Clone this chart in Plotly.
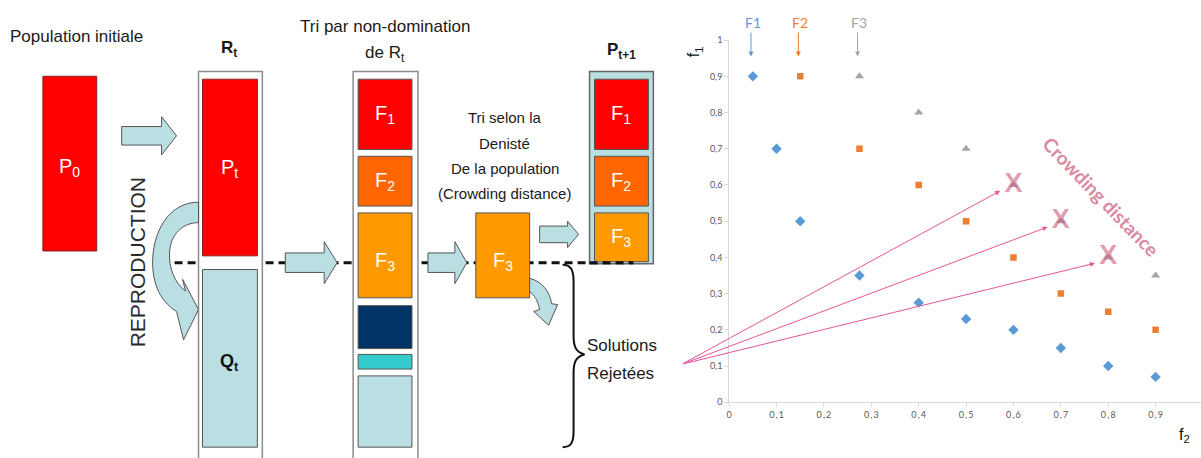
import plotly.graph_objects as go

W, H = 1201, 458

# ---------------- data (scatter chart) ----------------
front1_f2 = [0.05, 0.10, 0.15, 0.275, 0.40, 0.50, 0.60, 0.70, 0.80, 0.90]
front1_f1 = [0.90, 0.70, 0.50, 0.35, 0.275, 0.23, 0.20, 0.15, 0.10, 0.07]
front2_f2 = [0.15, 0.275, 0.40, 0.50, 0.60, 0.70, 0.80, 0.90]
front2_f1 = [0.90, 0.70, 0.60, 0.50, 0.40, 0.30, 0.25, 0.20]
front3_f2 = [0.275, 0.40, 0.50, 0.60, 0.70, 0.80, 0.90]
front3_f1 = [0.90, 0.80, 0.70, 0.60, 0.50, 0.40, 0.35]
crowd_f2 = [0.60, 0.70, 0.80]
crowd_f1 = [0.60, 0.50, 0.40]
front_names = ["F1", "F2", "F3"]
front_colors = ["#5b9bd5", "#ed7d31", "#a5a5a5"]
tick_vals = [0, 0.1, 0.2, 0.3, 0.4, 0.5, 0.6, 0.7, 0.8, 0.9, 1.0]
x_tick_text = ["0", "0\u2009,\u20091", "0\u2009,\u20092", "0\u2009,\u20093", "0\u2009,\u20094",
               "0\u2009,\u20095", "0\u2009,\u20096", "0\u2009,\u20097", "0\u2009,\u20098",
               "0\u2009,\u20099", "1"]
y_tick_text = ["0", "0,1", "0,2", "0,3", "0,4", "0,5", "0,6", "0,7", "0,8", "0,9", "1"]
arrow_origin = (-0.10, 0.105)

NARROW = "Liberation Sans Narrow, Arial Narrow, Liberation Sans, Arial, sans-serif"


def px(x):
    return x / W


def py(y):
    return 1 - y / H


def path(cmds):
    out = []
    for c, pts in cmds:
        out.append(c + " " + " ".join(f"{px(x):.5f},{py(y):.5f}" for x, y in pts))
    return " ".join(out)


shapes = []
annotations = []


def rect(x0, y0, x1, y1, fill, line="#404040", lw=1):
    shapes.append(dict(type="rect", xref="paper", yref="paper",
                       x0=px(x0), x1=px(x1), y0=py(y1), y1=py(y0),
                       fillcolor=fill, line=dict(color=line, width=lw), layer="above"))


def pshape(cmds, fill="#b9dfe2", line="#555555", lw=1):
    shapes.append(dict(type="path", xref="paper", yref="paper", path=path(cmds),
                       fillcolor=fill, line=dict(color=line, width=lw), layer="above"))


def block_arrow(x0, xh, x1, yc, hb, hh):
    pshape([("M", [(x0, yc - hb)]), ("L", [(xh, yc - hb)]), ("L", [(xh, yc - hh)]),
            ("L", [(x1, yc)]), ("L", [(xh, yc + hh)]), ("L", [(xh, yc + hb)]),
            ("L", [(x0, yc + hb)]), ("Z", [])])


def txt(x, y, text, size=18, color="#1a1a1a", family=NARROW, xanchor="center", angle=0):
    annotations.append(dict(x=px(x), y=py(y), xref="paper", yref="paper", text=text,
                            showarrow=False, xanchor=xanchor, yanchor="middle",
                            textangle=angle, font=dict(size=size, color=color, family=family)))


RED, OR1, OR2, NAVY, TEAL, LBLUE = "#ff0000", "#ff6600", "#ff9900", "#003366", "#33cccc", "#b9dfe2"

# dashed separator
shapes.append(dict(type="line", xref="paper", yref="paper", x0=px(172), x1=px(632),
                   y0=py(263), y1=py(263), line=dict(color="#111111", width=3, dash="8px,5px"),
                   layer="above"))

# P0
rect(40, 72, 94, 251, RED, "#8a2020")
# Rt column
rect(196, 67, 260, 470, "white", "#8c8c8c", 1.5)
rect(200, 75, 255, 256, RED, "#8a2020")
rect(200, 270, 255, 452, LBLUE, "#555555")
# middle column
rect(351, 67, 416, 470, "white", "#8c8c8c", 1.5)
rect(356, 75, 410, 147, RED, "#555555")
rect(356, 154, 410, 205, OR1, "#555555")
rect(356, 212, 410, 299, OR2, "#555555")
rect(356, 307, 410, 351, NAVY, "#555555")
rect(356, 357, 410, 372, TEAL, "#555555")
rect(356, 379, 410, 452, LBLUE, "#555555")
# F3 selection
rect(474, 212, 528, 299, OR2, "#555555")
# Pt+1
rect(588, 67, 652, 264, LBLUE, "#666666", 1.5)
rect(593, 75, 647, 147, RED, "#555555")
rect(593, 154, 647, 205, OR1, "#555555")
rect(593, 212, 647, 262, OR2, "#555555")

# dashed line drawn again over Pt+1 bottom
shapes.append(dict(type="line", xref="paper", yref="paper", x0=px(588), x1=px(632),
                   y0=py(263), y1=py(263), line=dict(color="#111111", width=3, dash="8px,5px"),
                   layer="above"))

# block arrows
block_arrow(119, 159, 174, 133, 9.5, 19.5)
block_arrow(283, 322, 335, 263, 10, 21.5)
block_arrow(426, 453, 465, 263, 10, 21.5)
block_arrow(538, 566, 577, 234, 8.5, 13.5)

# reproduction curved arrow
pshape([("M", [(196, 201)]),
        ("C", [(166, 201), (149, 232), (150, 266)]),
        ("C", [(151, 290), (161, 305), (174, 313)]),
        ("L", [(181, 342)]), ("L", [(196, 311)]), ("L", [(180, 280)]),
        ("L", [(183, 292)]),
        ("C", [(172, 284), (166, 268), (167, 252)]),
        ("C", [(168, 234), (180, 222), (196, 222)]),
        ("Z", [])])

# small curved arrow out of F3
pshape([("M", [(528, 279)]),
        ("C", [(540, 282), (548, 292), (550, 305)]),
        ("L", [(556, 306)]), ("L", [(547, 327)]), ("L", [(532, 313)]),
        ("L", [(538, 311)]),
        ("C", [(536, 302), (533, 296), (528, 293)]),
        ("Z", [])])

# brace
shapes.append(dict(type="path", xref="paper", yref="paper", layer="above",
                   path=path([("M", [(561, 265)]),
                              ("C", [(569, 265), (572, 270), (572, 282)]),
                              ("L", [(572, 338)]),
                              ("C", [(572, 350), (575, 355), (583, 357)]),
                              ("C", [(575, 359), (572, 364), (572, 376)]),
                              ("L", [(572, 436)]),
                              ("C", [(572, 448), (569, 452), (561, 452)])]),
                   line=dict(color="#111111", width=2)))

# diagram texts
txt(5, 31, "Population initiale", 17, xanchor="left")
txt(227, 44, "<b>R<sub>t</sub></b>", 17)
txt(383, 21, "Tri par non-domination", 17)
txt(383, 49, "de R<sub>t</sub>", 17)
txt(503, 114, "Tri selon la", 15)
txt(503, 141, "Denisté", 15)
txt(503, 166, "De la population", 15)
txt(503, 192, "(Crowding distance)", 15)
txt(620, 46, "<b>P<sub>t+1</sub></b>", 17)
txt(67, 165, "P<sub>0</sub>", 20, "white")
txt(227, 167, "P<sub>t</sub>", 20, "white")
txt(227, 365, "<b>Q<sub>t</sub></b>", 18, "#111111")
for xc in (383, 620):
    txt(xc, 111, "F<sub>1</sub>", 20, "white")
    txt(xc, 180, "F<sub>2</sub>", 20, "white")
txt(383, 262, "F<sub>3</sub>", 20, "white")
txt(501, 262, "F<sub>3</sub>", 20, "white")
txt(620, 237, "F<sub>3</sub>", 20, "white")
txt(135, 263, "REPRODUCTION", 21, "#2a2a2a", family="Liberation Sans, Arial, sans-serif", angle=-90)
txt(583, 348, "Solutions", 17, xanchor="left")
txt(583, 377, "Rejetées", 17, xanchor="left")

# ---------------- scatter chart ----------------
fig = go.Figure()
fig.add_trace(go.Scatter(x=front1_f2, y=front1_f1, mode="markers", name=front_names[0],
                         marker=dict(symbol="diamond", size=8, color=front_colors[0])))
fig.add_trace(go.Scatter(x=front2_f2, y=front2_f1, mode="markers", name=front_names[1],
                         marker=dict(symbol="square", size=6.5, color=front_colors[1])))
fig.add_trace(go.Scatter(x=front3_f2, y=front3_f1, mode="markers", name=front_names[2],
                         marker=dict(symbol="triangle-up", size=8, color=front_colors[2])))
fig.add_trace(go.Scatter(x=crowd_f2, y=crowd_f1, mode="text", text=["X"] * len(crowd_f2),
                         textposition="middle center", cliponaxis=False,
                         textfont=dict(size=27, color="rgba(200,90,125,0.62)",
                                       family=NARROW, weight="bold")))

# crowding arrows
for cx, cy in zip(crowd_f2, crowd_f1):
    annotations.append(dict(x=cx - 0.028, y=cy - 0.016, xref="x", yref="y",
                            ax=arrow_origin[0], ay=arrow_origin[1], axref="x", ayref="y",
                            showarrow=True, arrowhead=2, arrowsize=1, arrowwidth=1,
                            arrowcolor="#e5559a", text=""))

# front labels + arrows
for name, col, fx in zip(front_names, front_colors, [front1_f2[0], front2_f2[0], front3_f2[0]]):
    annotations.append(dict(x=fx, y=py(17), xref="x", yref="paper", text=name, showarrow=False,
                            xanchor="center", yanchor="middle",
                            font=dict(size=14, color=col, family="Lato, Open Sans, sans-serif")))
    annotations.append(dict(x=fx - 0.004, y=0.955, xref="x", yref="y", ax=fx - 0.004, ay=1.025,
                            axref="x", ayref="y", showarrow=True, arrowhead=2, arrowsize=1,
                            arrowwidth=1, arrowcolor=col, text=""))

# crowding distance label
annotations.append(dict(x=px(1101), y=py(195), xref="paper", yref="paper",
                        xanchor="center", yanchor="middle",
                        text="<b>Crowding distance</b>", showarrow=False, textangle=46,
                        font=dict(size=19, color="#da8aa2", family="Lato, Open Sans, sans-serif")))

# axis titles
txt(694, 47, "f<sub>1</sub>", 16, "#111111", family="Liberation Sans, Arial, sans-serif", angle=-90)
txt(1184, 440, "f<sub>2</sub>", 16, "#111111", family="Liberation Sans, Arial, sans-serif")

x_end = (W - 728) / 475.0
fig.update_layout(
    width=W, height=H, autosize=False,
    margin=dict(l=0, r=0, t=0, b=0),
    paper_bgcolor="white", plot_bgcolor="white",
    showlegend=False,
    shapes=shapes, annotations=annotations,
    xaxis=dict(domain=[728 / W, 1.0], range=[0, x_end], tickvals=tick_vals, ticktext=x_tick_text,
               showgrid=False, zeroline=False, showline=True, linecolor="#d9d9d9", linewidth=1,
               ticks="outside", ticklen=4, tickcolor="#d9d9d9",
               tickfont=dict(size=9, color="#595959", family="Lato, Open Sans, sans-serif")),
    yaxis=dict(domain=[52 / H, 423 / H], range=[0, 1], tickvals=tick_vals, ticktext=y_tick_text,
               showgrid=False, zeroline=False, showline=True, linecolor="#d9d9d9", linewidth=1,
               ticks="outside", ticklen=4, tickcolor="#d9d9d9",
               tickfont=dict(size=9, color="#595959", family="Lato, Open Sans, sans-serif")),
)
fig.write_html("out.html", config={"responsive": False, "displayModeBar": False},
               default_width="1201px", default_height="458px",
               post_script="document.body.style.margin='0px';document.body.style.overflow='hidden';")
